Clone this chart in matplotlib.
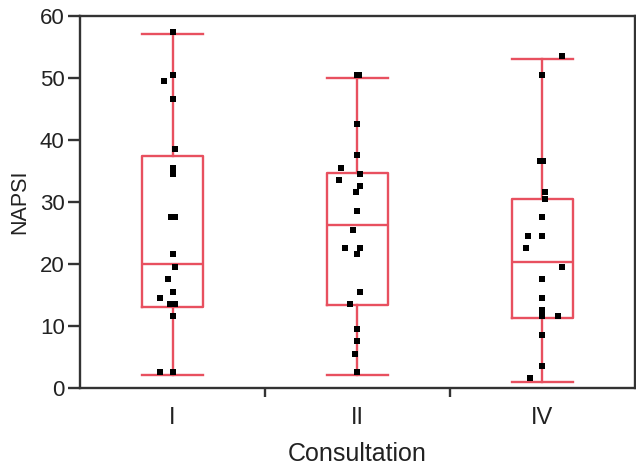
import numpy as np
import matplotlib.pyplot as plt

plt.rcParams['font.family'] = ['Liberation Sans', 'DejaVu Sans']

# groups on the x axis
consult = ['I', 'II', 'IV']

# box statistics
med = [20.0, 26.3, 20.3]
q1 = [13.0, 13.4, 11.2]
q3 = [37.4, 34.7, 30.5]
whis_lo = [2.0, 2.0, 1.0]
whis_hi = [57.0, 50.0, 53.0]

# individual NAPSI scores per consultation
napsi_1 = [57.4, 50.4, 49.5, 46.5, 38.5, 35.5, 34.5, 27.5, 27.5, 21.5,
           19.5, 17.5, 15.5, 14.5, 13.5, 13.5, 11.5, 2.5, 2.5]
napsi_2 = [50.5, 50.5, 42.5, 37.5, 35.5, 34.5, 33.5, 32.5, 31.5, 28.5,
           25.5, 22.5, 22.5, 21.5, 15.5, 13.5, 9.5, 7.5, 5.5, 2.5]
napsi_4 = [53.5, 50.5, 36.5, 36.5, 31.5, 30.5, 27.5, 24.5, 24.5, 22.5,
           19.5, 17.5, 14.5, 12.5, 11.5, 11.5, 8.5, 3.5, 1.5]
# horizontal jitter of the dots (in category widths)
jit_1 = [0, 0, -0.048, 0, 0.011, 0, 0, -0.008, 0.016, 0,
         0.011, -0.027, 0, -0.07, -0.011, 0.011, 0, -0.07, 0]
jit_2 = [-0.004, 0.006, -0.005, -0.005, -0.09, 0.016, -0.1, 0.011, -0.01, 0,
         -0.027, -0.07, 0.011, 0, 0.011, -0.038, -0.005, 0, -0.011, -0.005]
jit_4 = [0.108, -0.005, -0.016, 0.005, 0.011, 0.011, 0, -0.08, 0, -0.09,
         0.108, 0, 0, 0, 0, 0.086, 0, 0, -0.07]

red = '#e8505f'
dark = '#333333'

fig = plt.figure(figsize=(6.36, 4.65), dpi=100)
ax = fig.add_axes([0.1258, 0.1662, 0.8726, 0.8])

stats = []
for i in range(3):
    stats.append({'med': med[i], 'q1': q1[i], 'q3': q3[i],
                  'whislo': whis_lo[i], 'whishi': whis_hi[i], 'fliers': []})
lp = dict(color=red, linewidth=1.7)
ax.bxp(stats, positions=[0, 1, 2], widths=0.33, capwidths=0.33,
       boxprops=lp, whiskerprops=lp, capprops=lp, medianprops=lp,
       showfliers=False, manage_ticks=False)

# dots on top of the boxes
for i, (vals, jit) in enumerate([(napsi_1, jit_1), (napsi_2, jit_2), (napsi_4, jit_4)]):
    ax.scatter(i + np.array(jit), vals, marker='s', s=14, color='black',
               linewidths=0, zorder=5)

ax.set_xlim(-0.5, 2.5)
ax.set_ylim(0, 60)
ax.set_yticks(np.arange(0, 61, 10))
ax.set_xticks([0.5, 1.5])
ax.set_xticklabels([])
ax.set_xticks([0, 1, 2], minor=True)
ax.set_xticklabels(consult, minor=True)
ax.tick_params(axis='x', which='major', direction='out', length=6.5, width=1.7, color=dark)
ax.tick_params(axis='x', which='minor', length=0, pad=14, labelsize=17, labelcolor='#222222')
ax.tick_params(axis='y', direction='out', length=9, width=1.7, color=dark, pad=2,
               labelsize=16, labelcolor='#222222')

for s in ax.spines.values():
    s.set_color(dark)
    s.set_linewidth(1.7)

ax.set_xlabel('Consultation', fontsize=18, color='#222222', labelpad=9)
ax.set_ylabel('NAPSI', fontsize=15.5, color='#222222', labelpad=7)

fig.savefig('out.png', dpi=100)
